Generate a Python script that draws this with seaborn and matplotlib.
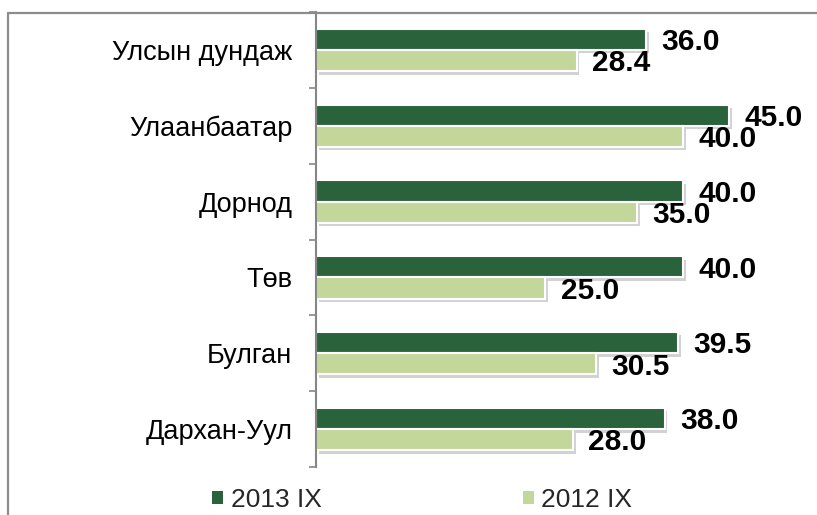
import matplotlib
matplotlib.use("Agg")
import matplotlib.pyplot as plt
import matplotlib.patheffects as pe
from matplotlib.lines import Line2D
from matplotlib.patches import Patch
import seaborn as sns
import pandas as pd
import numpy as np

categories = ["Улсын дундаж", "Улаанбаатар", "Дорнод", "Төв", "Булган", "Дархан-Уул"]
series_names = ["2013 IX", "2012 IX"]
values_2013 = [36.0, 45.0, 40.0, 40.0, 39.5, 38.0]
values_2012 = [28.4, 40.0, 35.0, 25.0, 30.5, 28.0]

colors = {"2013 IX": "#29623b", "2012 IX": "#c4d79b"}

df = pd.DataFrame({
    "category": categories * 2,
    "series": [series_names[0]] * len(categories) + [series_names[1]] * len(categories),
    "value": values_2013 + values_2012,
})

sns.set_theme(style="white")
plt.rcParams["font.family"] = ["Liberation Sans", "DejaVu Sans"]

fig = plt.figure(figsize=(8.17, 5.15), dpi=100)
ax = fig.add_axes([316 / 817, 1 - 467 / 515, 1 - 316 / 817, (467 - 12) / 515])

sns.barplot(data=df, y="category", x="value", hue="series", order=categories,
            hue_order=series_names, palette=colors, width=0.56, orient="h",
            edgecolor="white", linewidth=1.5, legend=False, ax=ax, saturation=1)

shadow = [pe.SimplePatchShadow(offset=(2, -2.5), shadow_rgbFace="#8f8f8f", alpha=0.4), pe.Normal()]
for cont in ax.containers:
    for bar in cont:
        bar.set_path_effects(shadow)
        w = bar.get_width()
        yc = bar.get_y() + bar.get_height() / 2
        ax.annotate(f"{w:.1f}", xy=(w, yc), xytext=(11, -2), textcoords="offset points",
                    va="center", ha="left", fontsize=21.5, fontweight="bold", color="black")

ax.set_xlim(0, 54.6)
ax.set_ylim(5.5, -0.5)
ax.set_xlabel("")
ax.set_ylabel("")
ax.set_xticks([])
for s in ["top", "right", "bottom"]:
    ax.spines[s].set_visible(False)
ax.spines["left"].set_color("#868686")
ax.spines["left"].set_linewidth(1.5)
ax.set_yticks(np.arange(len(categories) + 1) - 0.5, minor=True)
ax.tick_params(axis="y", which="major", length=0, pad=17, labelsize=19.5, labelcolor="black")
ax.tick_params(axis="y", which="minor", length=5, width=1.2, color="#868686", direction="out", left=True)

# outer chart frame
fc = "#8c8c8c"
fig.add_artist(Line2D([7.5 / 817, 1], [1 - 13 / 515] * 2, color=fc, lw=1.6, transform=fig.transFigure))
fig.add_artist(Line2D([7.5 / 817] * 2, [0, 1 - 13 / 515], color=fc, lw=1.6, transform=fig.transFigure))

handles = [Patch(facecolor=colors[s], edgecolor="none") for s in series_names]
fig.legend(handles, series_names, loc="center", bbox_to_anchor=(0.517, 1 - 500 / 515),
           ncol=2, frameon=False, fontsize=19, handlelength=0.42, handleheight=0.42,
           handletextpad=0.27, columnspacing=7.65, borderaxespad=0, borderpad=0)

fig.savefig("out.png", dpi=100)
